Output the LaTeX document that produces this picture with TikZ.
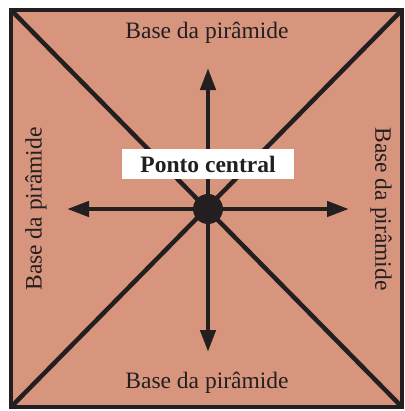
\documentclass[tikz,border=0pt]{standalone}
\usepackage{fontspec}
\setmainfont{Liberation Serif}
\usetikzlibrary{arrows.meta}
\definecolor{Clay}{HTML}{D8957E}
\definecolor{Ink}{HTML}{231F20}

\begin{document}
\begin{tikzpicture}[x=1bp,y=-1bp,line width=4.5bp,
    base/.style={text=Ink,font=\fontsize{23.6}{26}\selectfont},
    seta/.style={Ink,-{Triangle[length=22bp,width=15bp]}}]
  \useasboundingbox (0,0) rectangle (405,411);
  \coordinate (nw) at (11,10); \coordinate (ne) at (402,10);
  \coordinate (sw) at (11,407); \coordinate (se) at (402,407);
  \fill[Clay] (nw) rectangle (se);
  \draw[Ink] (nw) -- (se) (ne) -- (sw);
  \draw[Ink] (nw) rectangle (se);
  \node[circle,fill=Ink,minimum size=30bp,inner sep=0pt] (centro) at (208,209) {};
  \coordinate (cima) at (208,68); \coordinate (baixo) at (208,352);
  \coordinate (esq) at (67,209); \coordinate (dir) at (349,209);
  \foreach \p in {cima,baixo,esq,dir}{\draw[seta] (centro.center) -- (\p);}
  \node[fill=white,minimum width=172bp,minimum height=30bp,inner sep=0pt,
    text=Ink,font=\fontsize{23.6}{26}\selectfont\bfseries] (rotulo) at (208,164) {Ponto central};
  \node[base] (topo) at (207,33) {Base da pirâmide};
  \node[base] (fundo) at (207,383) {Base da pirâmide};
  \node[base,rotate=90] (lado1) at (36,209) {Base da pirâmide};
  \node[base,rotate=-90] (lado2) at (381,209) {Base da pirâmide};
\end{tikzpicture}
\end{document}
